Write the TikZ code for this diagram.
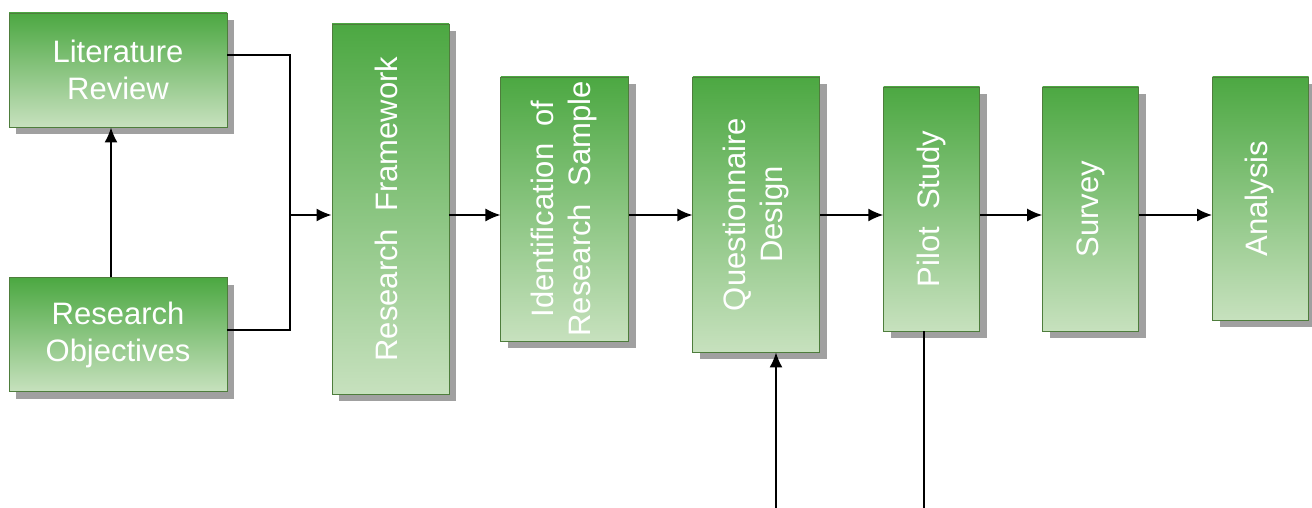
\documentclass[tikz,border=0pt]{standalone}
\usepackage{fontspec}
\setmainfont{Liberation Sans}
\usepackage{graphicx}
\usetikzlibrary{positioning, shadows, arrows.meta}
\definecolor{grtop}{RGB}{76,168,66}
\definecolor{grbot}{RGB}{199,225,190}
\definecolor{grline}{RGB}{78,125,60}
\definecolor{shgray}{RGB}{160,160,160}
\tikzset{stage/.style={rectangle, draw=grline, line width=0.9pt, top color=grtop, bottom color=grbot, text=white, align=center, inner sep=2pt, font=\fontsize{31}{37}\selectfont, drop shadow={shadow xshift=7pt, shadow yshift=-7pt, fill=shgray, opacity=1}}}
\tikzset{arrow/.style={draw, line width=1.6pt, -{Latex[length=15pt,width=13pt]}}}
\tikzset{link/.style={draw, line width=1.6pt}}
\newcommand{\vlabel}[1]{\rotatebox{90}{\begin{tabular}{@{}c@{}}#1\end{tabular}}}

\begin{document}
\begin{tikzpicture}[x=1pt, y=-1pt]
		\useasboundingbox (0,0) rectangle (1312,508);
		\node (lr) [stage, minimum width=218pt, minimum height=114pt] at (118,70) {Literature\\Review};
		\node (ro) [stage, minimum width=218pt, minimum height=114pt, below=150pt of lr] {Research\\Objectives};
		\node (rf) [stage, minimum width=117pt, minimum height=370pt] at (390.5,209) {\vlabel{Research\ \ Framework}};
		\node (irs) [stage, minimum width=128pt, minimum height=264pt, right=51pt of rf] {\vlabel{Identification\ \ of\\Research\ \ Sample}};
		\node (qd) [stage, minimum width=127pt, minimum height=275pt, right=63pt of irs, yshift=-5.5pt] {\vlabel{Questionnaire\\Design}};
		\node (ps) [stage, minimum width=96pt, minimum height=244pt, right=63pt of qd, yshift=5.5pt] {\vlabel{Pilot\ \ Study}};
		\node (sv) [stage, minimum width=96pt, minimum height=244pt, right=62pt of ps] {\vlabel{Survey}};
		\node (an) [stage, minimum width=96pt, minimum height=243pt, right=73pt of sv, yshift=10.5pt] {\vlabel{Analysis}};

		\coordinate (jn) at (290,215);
		\coordinate (qin) at (776,508);
		\coordinate (pout) at (924,508);

		\draw[link] (lr.east |- 0,55) -- (jn |- 0,55) -- (jn |- 0,330) -- (ro.east |- 0,330);
		\draw[arrow] ([xshift=-7pt]ro.north) -- ([xshift=-7pt]lr.south);
		\draw[arrow] (jn) -- (rf.west |- jn);
		\draw[arrow] (rf.east |- jn) -- (irs.west |- jn);
		\draw[arrow] (irs.east |- jn) -- (qd.west |- jn);
		\draw[arrow] (qd.east |- jn) -- (ps.west |- jn);
		\draw[arrow] (ps.east |- jn) -- (sv.west |- jn);
		\draw[arrow] (sv.east |- jn) -- (an.west |- jn);
		\draw[arrow] (qin) -- (qin |- qd.south);
		\draw[link] (pout |- ps.south) -- (pout);

\end{tikzpicture}
\end{document}
